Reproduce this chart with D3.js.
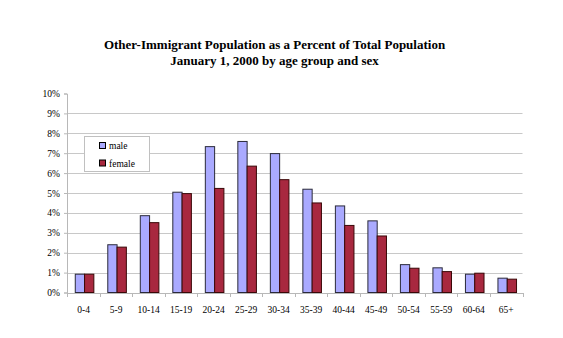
<!DOCTYPE html>
<html><head><meta charset="utf-8">
<script src="https://cdn.jsdelivr.net/npm/d3@7"></script>
<style>body{margin:0;background:#fff}svg{display:block}</style>
</head><body>
<svg id="c" width="563" height="338"></svg>
<script>
const categories = ["0-4","5-9","10-14","15-19","20-24","25-29","30-34","35-39","40-44","45-49","50-54","55-59","60-64","65+"];
const male =   [0.92, 2.40, 3.86, 5.04, 7.33, 7.59, 6.98, 5.19, 4.35, 3.60, 1.40, 1.24, 0.92, 0.72];
const female = [0.92, 2.28, 3.51, 4.97, 5.23, 6.35, 5.67, 4.50, 3.37, 2.84, 1.22, 1.05, 0.97, 0.67];
const seriesNames = ["male","female"];
const yTicks = [0,1,2,3,4,5,6,7,8,9,10];
const titleLines = ["Other-Immigrant Population as a Percent of Total Population","January 1, 2000 by age group and sex"];

const svg = d3.select("#c");
const font = "'Liberation Serif','Times New Roman',serif";
const colors = {male:"#aaaaff", female:"#a8283f"};
const strokes = {male:"#2a2a3a", female:"#3a0808"};

const x = d3.scaleBand().domain(categories).range([67.3, 522.5]).padding(0);
const xs = d3.scaleBand().domain(seriesNames).range([0, x.bandwidth()]).paddingInner(0).paddingOuter(0.75);
const y = d3.scaleLinear().domain([0,10]).range([292.5, 93.5]);

// gridlines
svg.append("g").selectAll("line").data(yTicks.filter(t=>t>0 && t<10)).join("line")
  .attr("x1", 67.3).attr("x2", 522.5)
  .attr("y1", d=>Math.round(y(d))+0.5).attr("y2", d=>Math.round(y(d))+0.5)
  .attr("stroke","#c8c8c8").attr("stroke-width",1);

// y axis
const yAxis = svg.append("g").attr("transform","translate(67,0)")
  .call(d3.axisLeft(y).tickValues(yTicks).tickSize(3).tickFormat(d=>d+"%"));
yAxis.select(".domain").attr("stroke","#b8b8b8");
yAxis.selectAll(".tick line").attr("stroke","#b8b8b8");
yAxis.selectAll("text").attr("font-family",font).attr("font-size","9.5px").attr("fill","#000").attr("x",-7);

// x axis
const xAxis = svg.append("g").attr("transform","translate(0,293)")
  .call(d3.axisBottom(x).tickSize(0).tickSizeOuter(0));
xAxis.select(".domain").attr("stroke","#b8b8b8");
xAxis.selectAll(".tick line").remove();
xAxis.selectAll("text").attr("font-family",font).attr("font-size","9.5px").attr("fill","#000").attr("dy","0").attr("y",20);
// category separator ticks
svg.append("g").selectAll("line").data(categories.concat(["end"])).join("line")
  .attr("x1",(d,i)=>Math.round(x.range()[0] + i*x.step())+0.5)
  .attr("x2",(d,i)=>Math.round(x.range()[0] + i*x.step())+0.5)
  .attr("y1",293).attr("y2",297).attr("stroke","#b8b8b8");

// bars
const data = categories.map((c,i)=>({c, male:male[i], female:female[i]}));
const g = svg.append("g");
seriesNames.forEach(s=>{
  g.selectAll("rect."+s).data(data).join("rect").attr("class",s)
    .attr("x", d=>x(d.c)+xs(s)+1)
    .attr("width", xs.bandwidth())
    .attr("y", d=>y(d[s]))
    .attr("height", d=>y(0)-y(d[s]))
    .attr("fill", colors[s]).attr("stroke", strokes[s]).attr("stroke-width",1);
});

// legend
const lg = svg.append("g");
lg.append("rect").attr("x",84.5).attr("y",136.5).attr("width",65).attr("height",35)
  .attr("fill","#fff").attr("stroke","#c0c0c0");
seriesNames.forEach((s,i)=>{
  lg.append("rect").attr("x",99.5).attr("y",142.5+i*17.5).attr("width",6).attr("height",6)
    .attr("fill",colors[s]).attr("stroke","#000");
  lg.append("text").attr("x",109).attr("y",149+i*17.5).text(s)
    .attr("font-family",font).attr("font-size","9.5px");
});

// title
svg.append("g").selectAll("text").data(titleLines).join("text")
  .attr("x",274.5).attr("y",(d,i)=>49+i*16).attr("text-anchor","middle")
  .attr("font-family",font).attr("font-weight","bold").attr("font-size","13px").text(d=>d);
</script>
</body></html>
